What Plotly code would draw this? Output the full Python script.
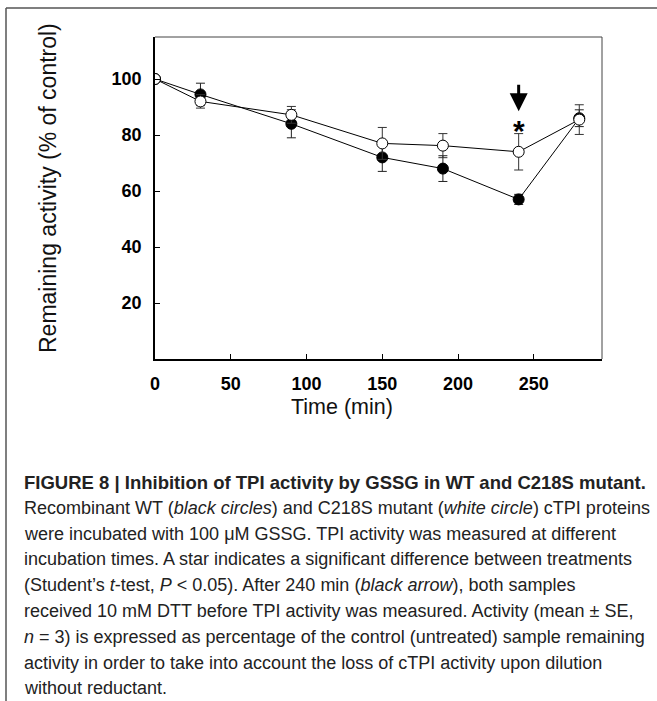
import plotly.graph_objects as go

# ---- data ----
time_min = [0, 30, 90, 150, 190, 240, 280]
wt_mean = [100, 94.5, 84, 72, 68, 57, 86]
wt_se = [0, 4, 5, 5, 4.6, 1.8, 3]
mut_mean = [100, 92, 87.2, 77, 76.2, 74, 85.5]
mut_se = [0, 2.4, 3, 5.7, 4.3, 6.5, 5.3]
x_ticks = [0, 50, 100, 150, 200, 250]
y_ticks = [20, 40, 60, 80, 100]
arrow_x = 240
star_x = 240

W, H = 657, 701
L, R, T, B = 155, 602, 37, 359

fig = go.Figure()
fig.add_trace(go.Scatter(
    x=time_min, y=wt_mean, mode="lines+markers",
    line=dict(color="black", width=1),
    marker=dict(symbol="circle", size=11, color="black", line=dict(color="black", width=1)),
    error_y=dict(type="data", array=wt_se, visible=True, color="#222", thickness=1, width=4.5),
    showlegend=False))
fig.add_trace(go.Scatter(
    x=time_min, y=mut_mean, mode="lines+markers",
    line=dict(color="black", width=1),
    marker=dict(symbol="circle", size=11, color="white", line=dict(color="black", width=1)),
    error_y=dict(type="data", array=mut_se, visible=True, color="#333", thickness=1, width=4.5),
    showlegend=False))

def px2paper_x(px):
    return (px - L) / (R - L)

def px2paper_y(py):
    return (B - py) / (B - T)

ann = []
# arrow and star
ann.append(dict(x=arrow_x, y=88.5, ax=arrow_x, ay=98.5, xref="x", yref="y", axref="x", ayref="y",
                showarrow=True, arrowhead=2, arrowsize=1.2, arrowwidth=3, arrowcolor="black", text=""))
ann.append(dict(x=star_x, y=81.5, xref="x", yref="y", text="<b>*</b>", showarrow=False,
                font=dict(family="Arial, Liberation Sans", size=30, color="black")))

# axis titles
ann.append(dict(x=px2paper_x(33), y=px2paper_y(188), xref="paper", yref="paper",
                text="Remaining activity (% of control)", textangle=-90, showarrow=False,
                font=dict(family="Arial, Liberation Sans", size=23, color="#111")))
ann.append(dict(x=px2paper_x(289), y=px2paper_y(421), xref="paper", yref="paper",
                text="Time (min)", showarrow=False,
                font=dict(family="Arial, Liberation Sans", size=21.5, color="#111")))

caption = [
    "<b>FIGURE 8 | Inhibition of TPI activity by GSSG in WT and C218S mutant.</b>",
    "Recombinant WT (<i>black circles</i>) and C218S mutant (<i>white circle</i>) cTPI proteins",
    "were incubated with 100 μM GSSG. TPI activity was measured at different",
    "incubation times. A star indicates a significant difference between treatments",
    "(Student’s <i>t</i>-test, <i>P</i> &lt; 0.05). After 240 min (<i>black arrow</i>), both samples",
    "received 10 mM DTT before TPI activity was measured. Activity (mean ± SE,",
    "<i>n</i> = 3) is expressed as percentage of the control (untreated) sample remaining",
    "activity in order to take into account the loss of cTPI activity upon dilution",
    "without reductant.",
]
y0 = 482
dy = 25.8
for i, line in enumerate(caption):
    if i == 0:
        fnt = dict(family="Liberation Sans, Arial", size=18.5, color="#222")
    else:
        fnt = dict(family="Liberation Sans Narrow, Arial Narrow, Liberation Sans", size=18, color="#222")
    ann.append(dict(x=px2paper_x(22), y=px2paper_y(y0 + i * dy), xref="paper", yref="paper",
                    xanchor="left", yanchor="middle", align="left", text=line, showarrow=False,
                    font=fnt))

shapes = [
    # outer frame
    dict(type="line", xref="paper", yref="paper", x0=px2paper_x(6), x1=px2paper_x(6),
         y0=px2paper_y(8), y1=px2paper_y(H + 5), line=dict(color="#555", width=1.5)),
    dict(type="line", xref="paper", yref="paper", x0=px2paper_x(6), x1=px2paper_x(W + 5),
         y0=px2paper_y(8), y1=px2paper_y(8), line=dict(color="#555", width=1.5)),
    # top and right of plot box
    dict(type="line", xref="paper", yref="paper", x0=0, x1=1, y0=1, y1=1, line=dict(color="#444", width=1)),
    dict(type="line", xref="paper", yref="paper", x0=1, x1=1, y0=0, y1=1, line=dict(color="#444", width=1)),
]

fig.update_layout(
    width=W, height=H,
    margin=dict(l=L, r=W - R, t=T, b=H - B, pad=0),
    paper_bgcolor="white", plot_bgcolor="white",
    annotations=ann, shapes=shapes,
    xaxis=dict(range=[0, 295], tickvals=x_ticks, ticks="inside", ticklen=5, tickcolor="black",
               showline=True, linecolor="black", linewidth=1.5, showgrid=False, zeroline=False,
               ticklabelstandoff=8,
               tickfont=dict(family="Arial, Liberation Sans", size=18, color="black", weight="bold")),
    yaxis=dict(range=[0, 115], tickvals=y_ticks, ticks="inside", ticklen=5, tickcolor="black",
               showline=True, linecolor="black", linewidth=1.5, showgrid=False, zeroline=False,
               ticklabelstandoff=8,
               tickfont=dict(family="Arial, Liberation Sans", size=18, color="black", weight="bold")),
)

fig.write_html("out.html")
